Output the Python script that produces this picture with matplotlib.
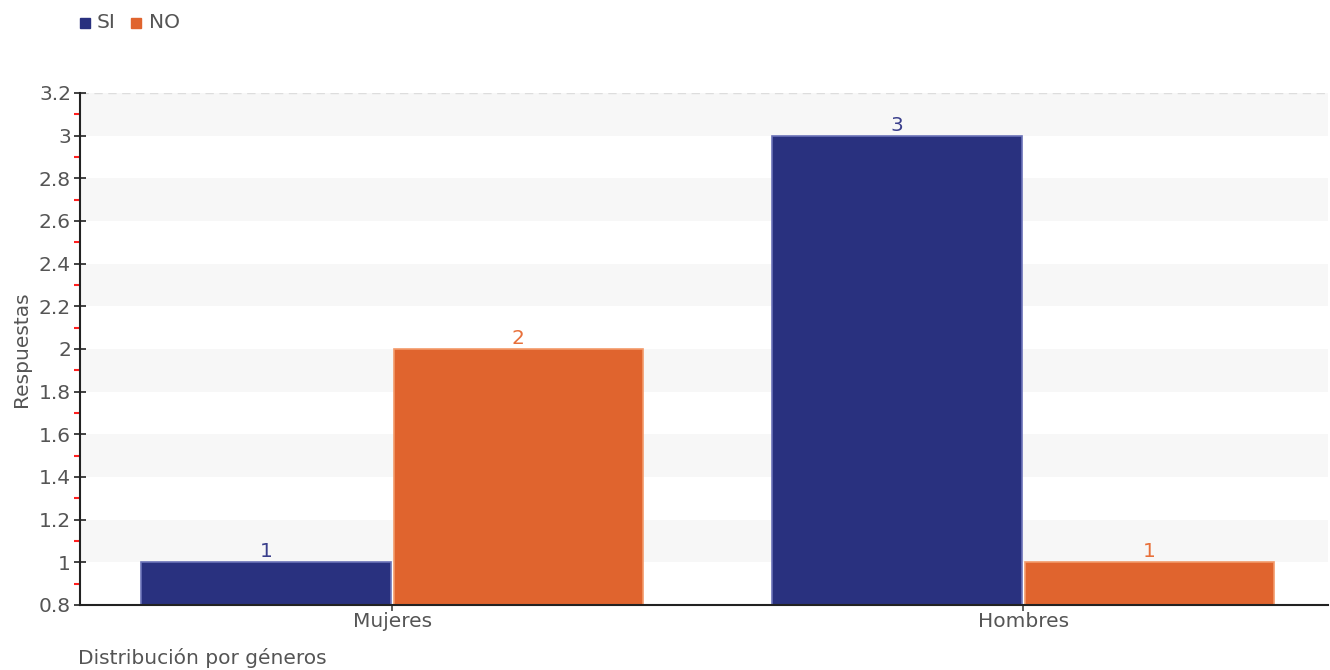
import matplotlib
matplotlib.use("Agg")
import matplotlib.pyplot as plt
import numpy as np
from matplotlib.ticker import MultipleLocator

categories = ["Mujeres", "Hombres"]
series_names = ["SI", "NO"]
si_values = [1, 3]
no_values = [2, 1]
yticks = [0.8, 1, 1.2, 1.4, 1.6, 1.8, 2, 2.2, 2.4, 2.6, 2.8, 3, 3.2]
ytick_labels = ["0.8", "1", "1.2", "1.4", "1.6", "1.8", "2", "2.2", "2.4", "2.6", "2.8", "3", "3.2"]

SI_COLOR = "#29317f"
NO_COLOR = "#e0642e"
TEXT = "#555555"
FS = 14.5

fig = plt.figure(figsize=(13.3, 6.7), dpi=100)
ax = fig.add_axes([80/1330, 65/670, 1248/1330, 512/670])

x = np.arange(len(categories))
w = 0.395
ax.set_xlim(-0.4945, 1.483)
ax.set_ylim(0.8, 3.2)

# alternating bands
for i in range(len(yticks) - 1):
    lo, hi = yticks[i], yticks[i + 1]
    if i % 2 == 1:
        ax.axhspan(lo, hi, color="#f7f7f7", zorder=0, lw=0)
ax.axhline(3.2, color="#dddddd", ls=(0, (6, 4)), lw=1, zorder=1)

ax.bar(x - 0.2, np.array(si_values) - 0.8, bottom=0.8, width=w, color=SI_COLOR,
       edgecolor="#6b72b8", linewidth=1.2, zorder=2, label=series_names[0])
ax.bar(x + 0.2, np.array(no_values) - 0.8, bottom=0.8, width=w, color=NO_COLOR,
       edgecolor="#f39a6a", linewidth=1.2, zorder=2, label=series_names[1])

for xi, v in zip(x, si_values):
    ax.text(xi - 0.2, v + 0.005, str(v), ha="center", va="bottom", color="#3a3f8c", fontsize=FS, zorder=3)
for xi, v in zip(x, no_values):
    ax.text(xi + 0.2, v + 0.005, str(v), ha="center", va="bottom", color="#e8703a", fontsize=FS, zorder=3)

ax.set_yticks(yticks)
ax.set_yticklabels(ytick_labels)
ax.yaxis.set_minor_locator(MultipleLocator(0.1))
ax.tick_params(axis="y", which="major", direction="inout", length=9, width=1.2, color="#222222",
               labelcolor=TEXT, labelsize=FS, pad=2)
ax.tick_params(axis="y", which="minor", direction="out", length=4, width=1.5, color="#ff2020")
ax.set_xticks(x)
ax.set_xticklabels(categories)
ax.tick_params(axis="x", which="major", direction="out", length=4, width=1.2, color="#444444",
               labelcolor=TEXT, labelsize=FS, pad=1)

for s in ["top", "right"]:
    ax.spines[s].set_visible(False)
for s in ["left", "bottom"]:
    ax.spines[s].set_color("#222222")
    ax.spines[s].set_linewidth(1.5)

ax.set_ylabel("Respuestas", color=TEXT, fontsize=FS, labelpad=6)
fig.text(78/1330, 1 - 658/670, "Distribución por géneros", color=TEXT, fontsize=FS, ha="left", va="center")

# legend
fig.patches.append(plt.Rectangle((80/1330, 1 - 28/670), 10/1330, 10/670, transform=fig.transFigure,
                                 color=SI_COLOR, figure=fig))
fig.text(97/1330, 1 - 23/670, series_names[0], color=TEXT, fontsize=FS, ha="left", va="center")
fig.patches.append(plt.Rectangle((131/1330, 1 - 28/670), 10/1330, 10/670, transform=fig.transFigure,
                                 color=NO_COLOR, figure=fig))
fig.text(149/1330, 1 - 23/670, series_names[1], color=TEXT, fontsize=FS, ha="left", va="center")

fig.savefig("out.png", dpi=100)
